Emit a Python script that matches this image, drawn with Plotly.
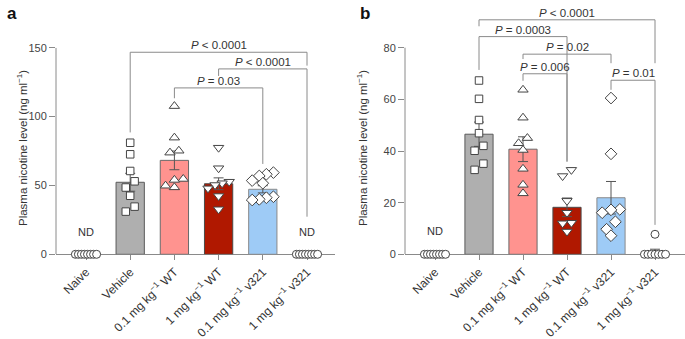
import math
import plotly.graph_objects as go

W, H = 685, 339

# ---------------- data ----------------
tick_labels = ["Naive", "Vehicle", "0.1 mg kg<sup>−1</sup> WT", "1 mg kg<sup>−1</sup> WT",
               "0.1 mg kg<sup>−1</sup> v321", "1 mg kg<sup>−1</sup> v321"]

# panel a
a_naive = [0, 0, 0, 0, 0, 0, 0, 0]
a_vehicle = [81.0, 72.6, 60.5, 53.0, 48.5, 42.5, 34.6, 31.0]
a_wt01 = [107.6, 84.7, 75.2, 73.8, 54.7, 54.0, 49.8, 48.6]
a_wt1 = [77.4, 62.5, 52.7, 51.6, 50.3, 47.9, 42.3, 32.7]
a_v01 = [59.3, 58.1, 56.9, 53.5, 51.6, 41.8, 41.1, 39.9, 39.4]
a_v1 = [0, 0, 0, 0, 0, 0, 0, 0]
a_means = [0, 52.3, 68.2, 51.2, 47.2, 0]
a_sems = [None, 6.5, 6.8, 4.3, 2.6, None]

# panel b
b_naive = [0, 0, 0, 0, 0, 0, 0, 0]
b_vehicle = [67.3, 60.2, 52.0, 46.9, 42.0, 40.1, 35.1, 32.7]
b_wt01 = [63.7, 52.9, 45.0, 43.0, 40.4, 33.1, 26.9, 23.6]
b_wt1 = [32.7, 30.3, 20.7, 16.1, 12.2, 12.0, 8.8]
b_v01 = [60.5, 38.9, 17.4, 17.2, 16.1, 12.6, 9.7, 7.2]
b_v1 = [7.75, 0, 0, 0, 0, 0, 0, 0]
b_means = [0, 46.5, 40.7, 18.2, 21.9, 0.97]
b_sems = [None, 4.7, 4.8, 3.6, 6.3, 1.0]

# significance brackets: (from, to, level, left leg end, right leg end, label)
a_brackets = [
    (1, 5, 146.7, 88.5, 137.0, "<i>P</i> < 0.0001"),
    (3, 5, 134.6, 129.5, 27.3, "<i>P</i> < 0.0001"),
    (2, 4, 120.8, 113.3, 65.6, "<i>P</i> = 0.03"),
]
b_brackets = [
    (1, 5, 90.8, 88.3, 74.0, "<i>P</i> < 0.0001"),
    (1, 3, 84.3, 71.4, 35.9, "<i>P</i> = 0.0003"),
    (2, 4, 77.5, 75.6, 74.0, "<i>P</i> = 0.02"),
    (2, 3, 69.9, 67.2, 35.9, "<i>P</i> = 0.006"),
    (4, 5, 67.4, 63.7, 11.4, "<i>P</i> = 0.01"),
]

# ---------------- style ----------------
bar_colors = ["#ffffff", "#afafaf", "#ff938f", "#b01800", "#9ecbf6", "#ffffff"]
bar_lines = ["rgba(0,0,0,0)", "#5a5a5a", "#6a6a6a", "#4a4a4a", "#8a8a8a", "rgba(0,0,0,0)"]
symbols = ["circle", "square", "triangle-up", "triangle-down", "diamond", "circle"]
msizes = [8, 7.5, 9, 9, 9, 8]
AX = "#8a8a8a"
TXT = "#333333"
FONT = "Liberation Sans, Arial, sans-serif"


def swarm(vals, px_per_unit, diam=8.0, step=0.2, maxhalf=0.24):
    """Simple row-based beeswarm offsets (category units)."""
    idx = sorted(range(len(vals)), key=lambda i: -vals[i])
    rows, cur = [], []
    for i in idx:
        if cur and (vals[cur[0]] - vals[i]) * px_per_unit > diam:
            rows.append(cur)
            cur = []
        cur.append(i)
    if cur:
        rows.append(cur)
    offs = [0.0] * len(vals)
    for r in rows:
        n = len(r)
        if n == 1:
            continue
        sp = min(step, 2 * maxhalf / (n - 1))
        r2 = sorted(r, key=lambda i: vals[i])
        for k, i in enumerate(r2):
            offs[i] = (k - (n - 1) / 2) * sp
    return offs


fig = go.Figure()

y0_px = 254.3
panels = [
    dict(xa="x", ya="y", groups=[a_naive, a_vehicle, a_wt01, a_wt1, a_v01, a_v1],
         means=a_means, sems=a_sems, brackets=a_brackets, top=150, rng=150,
         xl=56, xr=335, scale=206.6 / 150, ticks=[0, 50, 100, 150], nd=[(0, 16.4), (5, 16.4)]),
    dict(xa="x2", ya="y2", groups=[b_naive, b_vehicle, b_wt01, b_wt1, b_v01, b_v1],
         means=b_means, sems=b_sems, brackets=b_brackets, top=80, rng=92,
         xl=405, xr=685, scale=206.6 / 80, ticks=[0, 20, 40, 60, 80], nd=[(0, 9.0)]),
]

shapes = []
annotations = []
for pi, P in enumerate(panels):
    xs = list(range(6))
    fig.add_trace(go.Bar(
        x=xs, y=P["means"], xaxis=P["xa"], yaxis=P["ya"], width=0.64,
        marker=dict(color=bar_colors, line=dict(color=bar_lines, width=1)),
        error_y=dict(type="data", array=[s if s is not None else float("nan") for s in P["sems"]],
                     visible=True, color="#555555", thickness=1, width=5),
        showlegend=False, hoverinfo="skip"))
    for c, vals in enumerate(P["groups"]):
        offs = swarm(vals, P["scale"])
        fig.add_trace(go.Scatter(
            x=[c + o for o in offs], y=vals, xaxis=P["xa"], yaxis=P["ya"], mode="markers",
            marker=dict(symbol=symbols[c], size=msizes[c], color="white",
                        line=dict(color="#444444", width=1)),
            cliponaxis=False, showlegend=False, hoverinfo="skip"))
    for (i, j, lvl, l1, l2, lab) in P["brackets"]:
        for (x0, y0, x1, y1) in [(i, lvl, j, lvl), (i, lvl, i, l1), (j, lvl, j, l2)]:
            shapes.append(dict(type="line", xref=P["xa"], yref=P["ya"], x0=x0, y0=y0, x1=x1, y1=y1,
                               line=dict(color=AX, width=1)))
        annotations.append(dict(x=(i + j) / 2, y=lvl, xref=P["xa"], yref=P["ya"], text=lab,
                                showarrow=False, xanchor="center", yanchor="bottom", yshift=-1,
                                font=dict(size=11.5, color=TXT, family=FONT)))
    for (cx, cy) in P["nd"]:
        annotations.append(dict(x=cx, y=cy, xref=P["xa"], yref=P["ya"], text="ND", showarrow=False,
                                font=dict(size=11, color=TXT, family=FONT)))
    # y axis line
    shapes.append(dict(type="line", xref="paper", yref=P["ya"], x0=P["xl"] / W, x1=P["xl"] / W,
                       y0=0, y1=P["top"], line=dict(color=AX, width=1)))
    # y title
    annotations.append(dict(x=(P["xl"] - 43) / W, y=1 - 148 / H, xref="paper", yref="paper",
                            text="Plasma nicotine level (ng ml<sup>−1</sup>)", textangle=-90,
                            showarrow=False, font=dict(size=11.5, color=TXT, family=FONT)))

    top_px = y0_px - P["rng"] * P["scale"]
    sp = 44.2 if pi == 0 else 44.0
    cat0 = 86 if pi == 0 else 435
    xr0 = -(cat0 - P["xl"]) / sp
    xr1 = 5 + (P["xr"] - (cat0 + 5 * sp)) / sp
    xkey = "xaxis" if pi == 0 else "xaxis2"
    ykey = "yaxis" if pi == 0 else "yaxis2"
    fig.update_layout(**{
        xkey: dict(domain=[P["xl"] / W, P["xr"] / W], range=[xr0, xr1], anchor=P["ya"],
                   tickmode="array", tickvals=list(range(6)), ticktext=tick_labels, tickangle=-45,
                   ticks="outside", ticklen=5, tickcolor=AX, showline=True, linecolor=AX, linewidth=1,
                   showgrid=False, zeroline=False, automargin=False, layer="below traces",
                   tickfont=dict(size=12, color=TXT, family=FONT), fixedrange=True),
        ykey: dict(domain=[1 - y0_px / H, 1 - top_px / H], range=[0, P["rng"]], anchor=P["xa"],
                   tickmode="array", tickvals=P["ticks"], ticks="outside", ticklen=6, tickcolor=AX,
                   showline=False, showgrid=False, zeroline=False, automargin=False,
                   tickfont=dict(size=11, color="#444444", family=FONT), fixedrange=True),
    })

annotations.append(dict(x=5 / W, y=1 - 2 / H, xref="paper", yref="paper", text="<b>a</b>",
                        showarrow=False, xanchor="left", yanchor="top",
                        font=dict(size=17, color="#111111", family=FONT)))
annotations.append(dict(x=358 / W, y=1 - 2 / H, xref="paper", yref="paper", text="<b>b</b>",
                        showarrow=False, xanchor="left", yanchor="top",
                        font=dict(size=17, color="#111111", family=FONT)))

fig.update_layout(width=W, height=H, margin=dict(l=0, r=0, t=0, b=0), template="none",
                  paper_bgcolor="white", plot_bgcolor="rgba(0,0,0,0)", bargap=0.36,
                  shapes=shapes, annotations=annotations, font=dict(family=FONT, color=TXT),
                  hovermode=False)

fig.write_html("out.html", config={"displayModeBar": False, "staticPlot": True},
               post_script="document.body.style.margin='0';document.body.style.overflow='hidden';")
